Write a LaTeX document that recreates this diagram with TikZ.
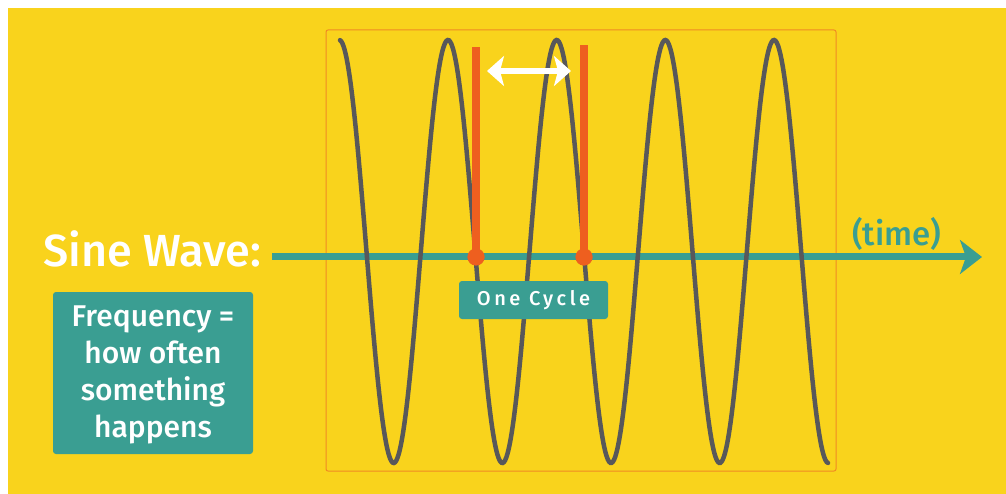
\documentclass[tikz,border=0pt]{standalone}
\usepackage{fontspec}
\setmainfont{Fira Sans}
\newfontfamily\medfont{Fira Sans Medium}
\usetikzlibrary{arrows.meta}
\definecolor{bgyellow}{HTML}{F9D31C}
\definecolor{tealc}{HTML}{3A9E92}
\definecolor{orangec}{HTML}{EE5F1F}
\definecolor{framec}{HTML}{F08A24}
\definecolor{wavec}{HTML}{58585A}
\tikzset{
  tealbox/.style={fill=tealc, rounded corners=3pt, inner sep=0pt},
  wavecurve/.style={draw=wavec, line width=4.5pt, line cap=round},
  orangebar/.style={draw=orangec, line width=8pt},
  orangedot/.style={circle, fill=orangec, minimum size=17pt, inner sep=0pt},
  timeaxis/.style={draw=tealc, line width=7pt, -{Stealth[length=22pt,width=34pt,inset=6pt]}},
  cyclearrow/.style={draw=white, line width=6pt, {Stealth[length=17pt,width=30pt,inset=4pt]}-{Stealth[length=17pt,width=30pt,inset=4pt]}},
  whitetext/.style={text=white, inner sep=0pt},
}
\begin{document}
\begin{tikzpicture}[x=1pt,y=-1pt]
\useasboundingbox (0,0) rectangle (1006,494);
\fill[white] (0,0) rectangle (1006,494);
\fill[bgyellow] (8,8) rectangle (1006,494);
% frame
\draw[framec, line width=1pt, rounded corners=2pt] (326,30) rectangle (836,471);
% axis
\coordinate (axs) at (272,257);
\coordinate (axe) at (982,257);
\draw[timeaxis] (axs) -- (axe);
% sine wave
\draw[wavecurve] plot[domain=340:828, samples=400, smooth] (\x, {251.5 - 211.5*cos(3.31278*(\x-339.33))});
% one cycle label box
\node[tealbox, minimum width=149pt, minimum height=38pt] (cyc) at (533.5,300) {};
\node[whitetext, font=\medfont\fontsize{20}{20}\selectfont\addfontfeatures{LetterSpace=18}] (cyct) at (533.5,300) {One Cycle};
% orange markers
\node[orangedot] (d1) at (476,257) {};
\node[orangedot] (d2) at (584,257) {};
\coordinate (t1) at (476,47);
\coordinate (t2) at (584,45);
\draw[orangebar] (d1.center) -- (t1);
\draw[orangebar] (d2.center) -- (t2);
\node[orangedot] at (476,257) {};
\node[orangedot] at (584,257) {};
% double arrow
\coordinate (a1) at (487,71);
\coordinate (a2) at (571,71);
\draw[cyclearrow] (a1) -- (a2);
% time label
\node[text=tealc, inner sep=0pt, anchor=base west, font=\medfont\fontsize{33}{33}\selectfont] (time) at (852,246) {(time)};
% Sine Wave label
\node[whitetext, anchor=base west, font=\medfont\fontsize{45}{45}\selectfont] (sw) at (43,267) {Sine Wave:};
% frequency box
\node[tealbox, minimum width=200pt, minimum height=162pt] (freq) at (153,373) {};
\node[whitetext, align=center, font=\medfont\fontsize{30}{37}\selectfont] (freqt) at (153,375) {Frequency =\\how often\\something\\happens};
\end{tikzpicture}
\end{document}
